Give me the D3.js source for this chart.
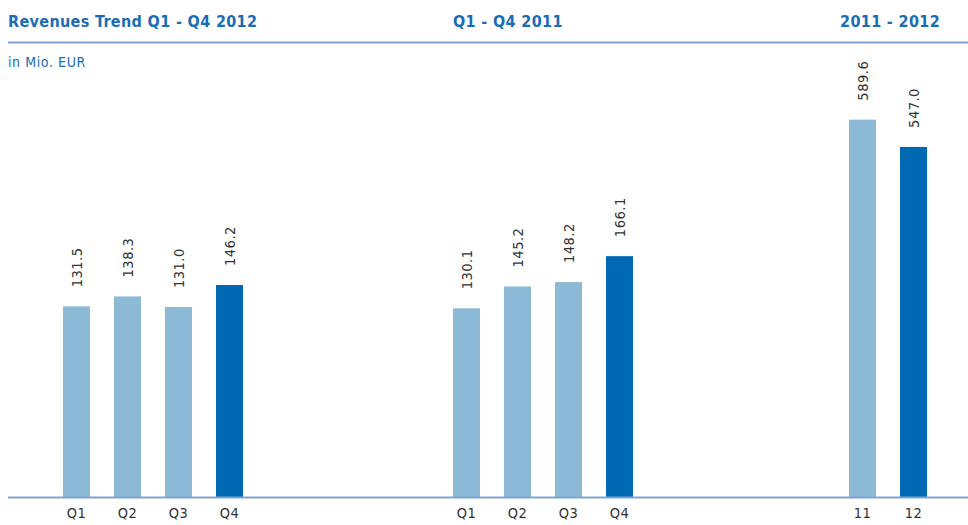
<!DOCTYPE html>
<html>
<head>
<meta charset="utf-8">
<script src="https://cdn.jsdelivr.net/npm/d3@7"></script>
<style>
  body { margin: 0; background: #fff; }
  svg { display: block; }
</style>
</head>
<body>
<div id="chart"></div>
<script>
const width = 968
const height = 525
const baseY = 497

const quarters = ["Q1", "Q2", "Q3", "Q4"]
const values2012 = [131.5, 138.3, 131.0, 146.2]
const values2011 = [130.1, 145.2, 148.2, 166.1]
const years = ["11", "12"]
const yearValues = [589.6, 547.0]
const titles = ["Revenues Trend Q1 - Q4 2012", "Q1 - Q4 2011", "2011 - 2012"]

const light = "#8bb9d6"
const dark = "#0069b4"
const blue = "#1a6cb4"
const lineColor = "#7fa3cf"
const condensed = "'DejaVu Sans Condensed', 'DejaVu Sans', sans-serif"

var yQuarter = d3.scaleLinear([0, 200], [baseY, baseY - 290])
var yYear = d3.scaleLinear([0, 600], [baseY, baseY - 384])

var svg = d3
  .select("#chart")
  .append("svg")
  .attr("width", width)
  .attr("height", height)

// header
svg
  .append("line")
  .attr("x1", 8)
  .attr("x2", width)
  .attr("y1", 42.5)
  .attr("y2", 42.5)
  .style("stroke", lineColor)
  .style("stroke-width", "2px")

svg
  .selectAll("text.title")
  .data(titles)
  .enter()
  .append("text")
  .attr("class", "title")
  .attr("x", (_d, i) => [8, 453, 940][i])
  .attr("y", 27)
  .attr("text-anchor", (_d, i) => (i == 2 ? "end" : "start"))
  .style("font-family", condensed)
  .style("font-weight", "bold")
  .style("font-size", "16px")
  .style("letter-spacing", "0.35px")
  .style("fill", blue)
  .text((d) => d)

svg
  .append("text")
  .attr("x", 8)
  .attr("y", 67)
  .style("font-family", condensed)
  .style("font-size", "14px")
  .style("letter-spacing", "0.6px")
  .style("fill", blue)
  .text("in Mio. EUR")

// groups of bars
const groups = [
  { cats: quarters, vals: values2012, range: [51, 255], y: yQuarter },
  { cats: quarters, vals: values2011, range: [441, 645], y: yQuarter },
  { cats: years, vals: yearValues, range: [837, 939], y: yYear },
]

groups.forEach((g) => {
  var x = d3
    .scaleBand()
    .domain(g.cats)
    .range(g.range)
    .paddingInner(24 / 51)
    .paddingOuter(12 / 51)
  var rows = g.cats.map((c, i) => ({ cat: c, val: g.vals[i], last: i == g.cats.length - 1 }))
  var grp = svg.append("g")

  grp
    .selectAll("rect")
    .data(rows)
    .enter()
    .append("rect")
    .attr("x", (d) => x(d.cat))
    .attr("width", x.bandwidth())
    .attr("y", (d) => g.y(d.val))
    .attr("height", (d) => baseY - g.y(d.val))
    .style("fill", (d) => (d.last ? dark : light))

  grp
    .selectAll("text.val")
    .data(rows)
    .enter()
    .append("text")
    .attr("class", "val")
    .attr("transform", (d) => `translate(${x(d.cat) + x.bandwidth() / 2 + 5.5},${g.y(d.val) - 19}) rotate(-90)`)
    .style("font-family", condensed)
    .style("font-size", "14.5px")
    .style("letter-spacing", "0.5px")
    .style("fill", "#333")
    .text((d) => d.val.toFixed(1))

  var axis = d3.axisBottom(x).tickSize(0).tickPadding(11)
  grp
    .append("g")
    .attr("transform", `translate(0,${baseY})`)
    .call(axis)
    .call((a) => a.select(".domain").remove())
    .selectAll("text")
    .style("font-family", condensed)
    .style("font-size", "14.5px")
    .style("letter-spacing", "0.5px")
    .style("fill", "#333")
})

// baseline
svg
  .append("line")
  .attr("x1", 8)
  .attr("x2", width)
  .attr("y1", baseY + 0.5)
  .attr("y2", baseY + 0.5)
  .style("stroke", lineColor)
  .style("stroke-width", "2px")
</script>
</body>
</html>
